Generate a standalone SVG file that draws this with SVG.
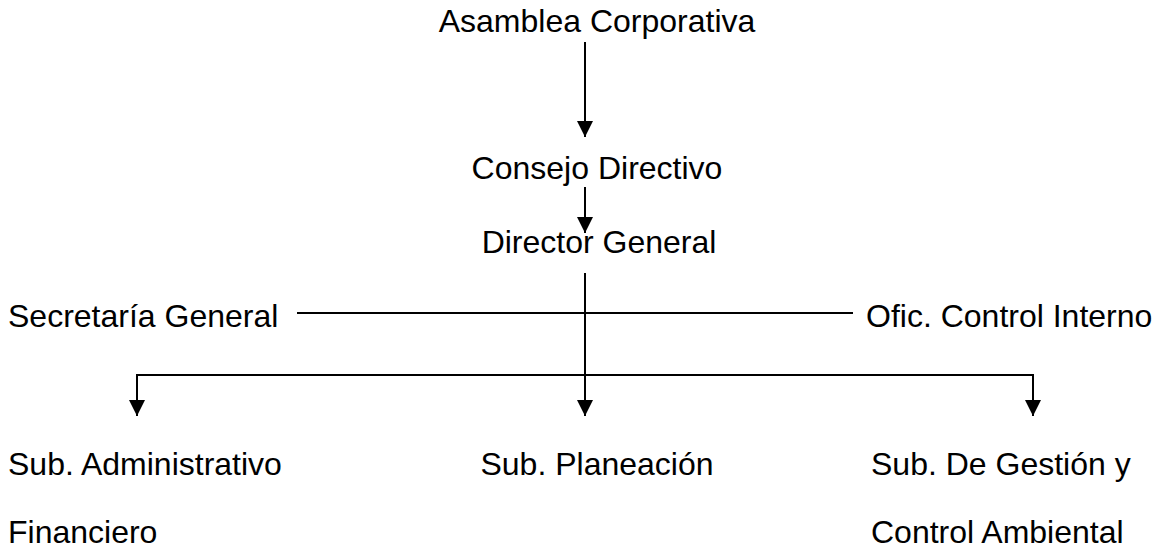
<svg xmlns="http://www.w3.org/2000/svg" width="1164" height="550" viewBox="0 0 1164 550">
<style>
text{font-family:"Liberation Sans",Arial,sans-serif;font-size:32px;fill:#000}
.c{text-anchor:middle}
.ln{stroke:#000;stroke-width:2;fill:none}
</style>
<defs>
<marker id="ah" viewBox="0 0 16 16" refX="16" refY="8" markerWidth="16" markerHeight="16" markerUnits="userSpaceOnUse" orient="auto">
<path d="M0,0 L16,8 L0,16 Z" fill="#000"/>
</marker>
</defs>
<rect width="1164" height="550" fill="#fff"/>
<g id="connectors">
<line class="ln" x1="585" y1="42" x2="585" y2="137" marker-end="url(#ah)"/>
<line class="ln" x1="585" y1="187" x2="585" y2="233" marker-end="url(#ah)"/>
<line class="ln" x1="585" y1="273" x2="585" y2="416" marker-end="url(#ah)"/>
<line class="ln" x1="297" y1="313" x2="853" y2="313"/>
<polyline class="ln" points="137,375 1033,375"/>
<line class="ln" x1="137" y1="374" x2="137" y2="416" marker-end="url(#ah)"/>
<line class="ln" x1="1033" y1="374" x2="1033" y2="416" marker-end="url(#ah)"/>
</g>
<g id="asamblea"><text class="c" x="597" y="32">Asamblea Corporativa</text></g>
<g id="consejo"><text class="c" x="597" y="179">Consejo Directivo</text></g>
<g id="director"><text class="c" x="599" y="253">Director General</text></g>
<g id="secretaria"><text x="8" y="327">Secretaría General</text></g>
<g id="control-interno"><text x="866" y="327">Ofic. Control Interno</text></g>
<g id="sub-admin"><text x="8" y="475">Sub. Administrativo</text><text x="8" y="543">Financiero</text></g>
<g id="sub-planeacion"><text class="c" x="597" y="475">Sub. Planeación</text></g>
<g id="sub-gestion"><text x="871" y="475">Sub. De Gestión y</text><text x="871" y="543">Control Ambiental</text></g>
</svg>
